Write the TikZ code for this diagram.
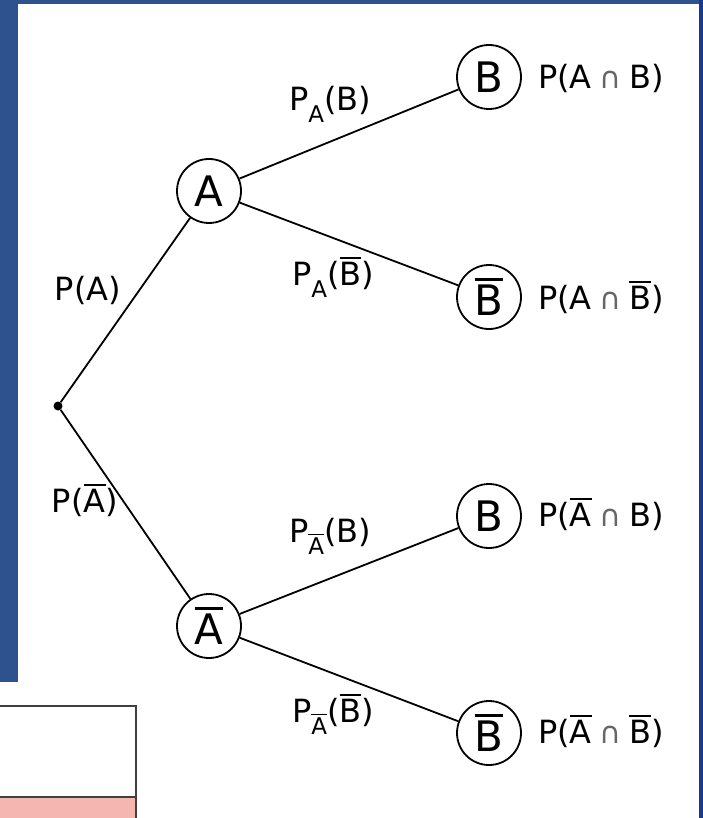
\documentclass[tikz,border=0pt]{standalone}
\usepackage{fontspec}
\setmainfont{DejaVu Sans}
\definecolor{bgblue}{RGB}{46,82,142}
\definecolor{rblue}{RGB}{24,58,140}
\definecolor{pinkfill}{RGB}{245,182,177}
\newcommand{\ovl}[1]{\hbox{\vbox{\hrule height 0.07em\kern 0.09em\hbox{#1}}}}
\newcommand{\cp}{\hspace{0.24em}{\color{black!60}\fontsize{30}{30}\selectfont ∩}\hspace{0.24em}}
\newcommand{\sbs}[1]{\lower0.38em\hbox{\fontsize{23}{23}\selectfont #1}}
\begin{document}
\begin{tikzpicture}[x=1pt,y=-1pt,
  circnode/.style={circle,draw,line width=1.8pt,minimum size=64pt,inner sep=0pt,font=\fontsize{42}{42}\selectfont},
  edge/.style={line width=1.8pt},
  lbl/.style={inner sep=0pt,font=\fontsize{32}{33}\selectfont},
  dotnode/.style={circle,fill,inner sep=0pt,minimum size=9pt}]
\useasboundingbox (0,0) rectangle (703,818);
% background
\fill[bgblue] (0,0) rectangle (703,818);
\fill[rblue] (699,0) rectangle (703,818);
\fill[white] (18,4) rectangle (699,818);
\fill[white] (0,682) rectangle (18,818);
% bottom-left box
\fill[pinkfill] (0,797) rectangle (136,818);
\draw[black!75,line width=1.2pt] (-2,706) -- (136,706) -- (136,820);
\draw[black!75,line width=1.2pt] (-2,797) -- (136,797);
% tree nodes
\node[dotnode] (root) at (58,406) {};
\node[circnode] (A) at (209,191) {A};
\node[circnode] (Ab) at (209,626) {\ovl{A}};
\node[circnode] (B1) at (489,77) {B};
\node[circnode] (Bb1) at (489,297) {\ovl{B}};
\node[circnode] (B2) at (489,516) {B};
\node[circnode] (Bb2) at (489,733) {\ovl{B}};
% edges
\draw[edge] (root) -- (A);
\draw[edge] (root) -- (Ab);
\draw[edge] (A) -- (B1);
\draw[edge] (A) -- (Bb1);
\draw[edge] (Ab) -- (B2);
\draw[edge] (Ab) -- (Bb2);
% edge labels
\node[lbl] (lA) at (88,290) {P(A)};
\node[lbl] (lAb) at (85,500) {P(\ovl{A})};
\node[lbl] (l1) at (330,104) {P\sbs{A}(B)};
\node[lbl] (l2) at (333,277) {P\sbs{A}(\ovl{B})};
\node[lbl] (l3) at (330,536) {P\sbs{\ovl{A}}(B)};
\node[lbl] (l4) at (333,714) {P\sbs{\ovl{A}}(\ovl{B})};
% result labels
\node[lbl,anchor=west] (r1) at (538,78) {P(A\cp B)};
\node[lbl,anchor=west] (r2) at (538,297) {P(A\cp\ovl{B})};
\node[lbl,anchor=west] (r3) at (538,514) {P(\ovl{A}\cp B)};
\node[lbl,anchor=west] (r4) at (538,731) {P(\ovl{A}\cp\ovl{B})};
\end{tikzpicture}
\end{document}
